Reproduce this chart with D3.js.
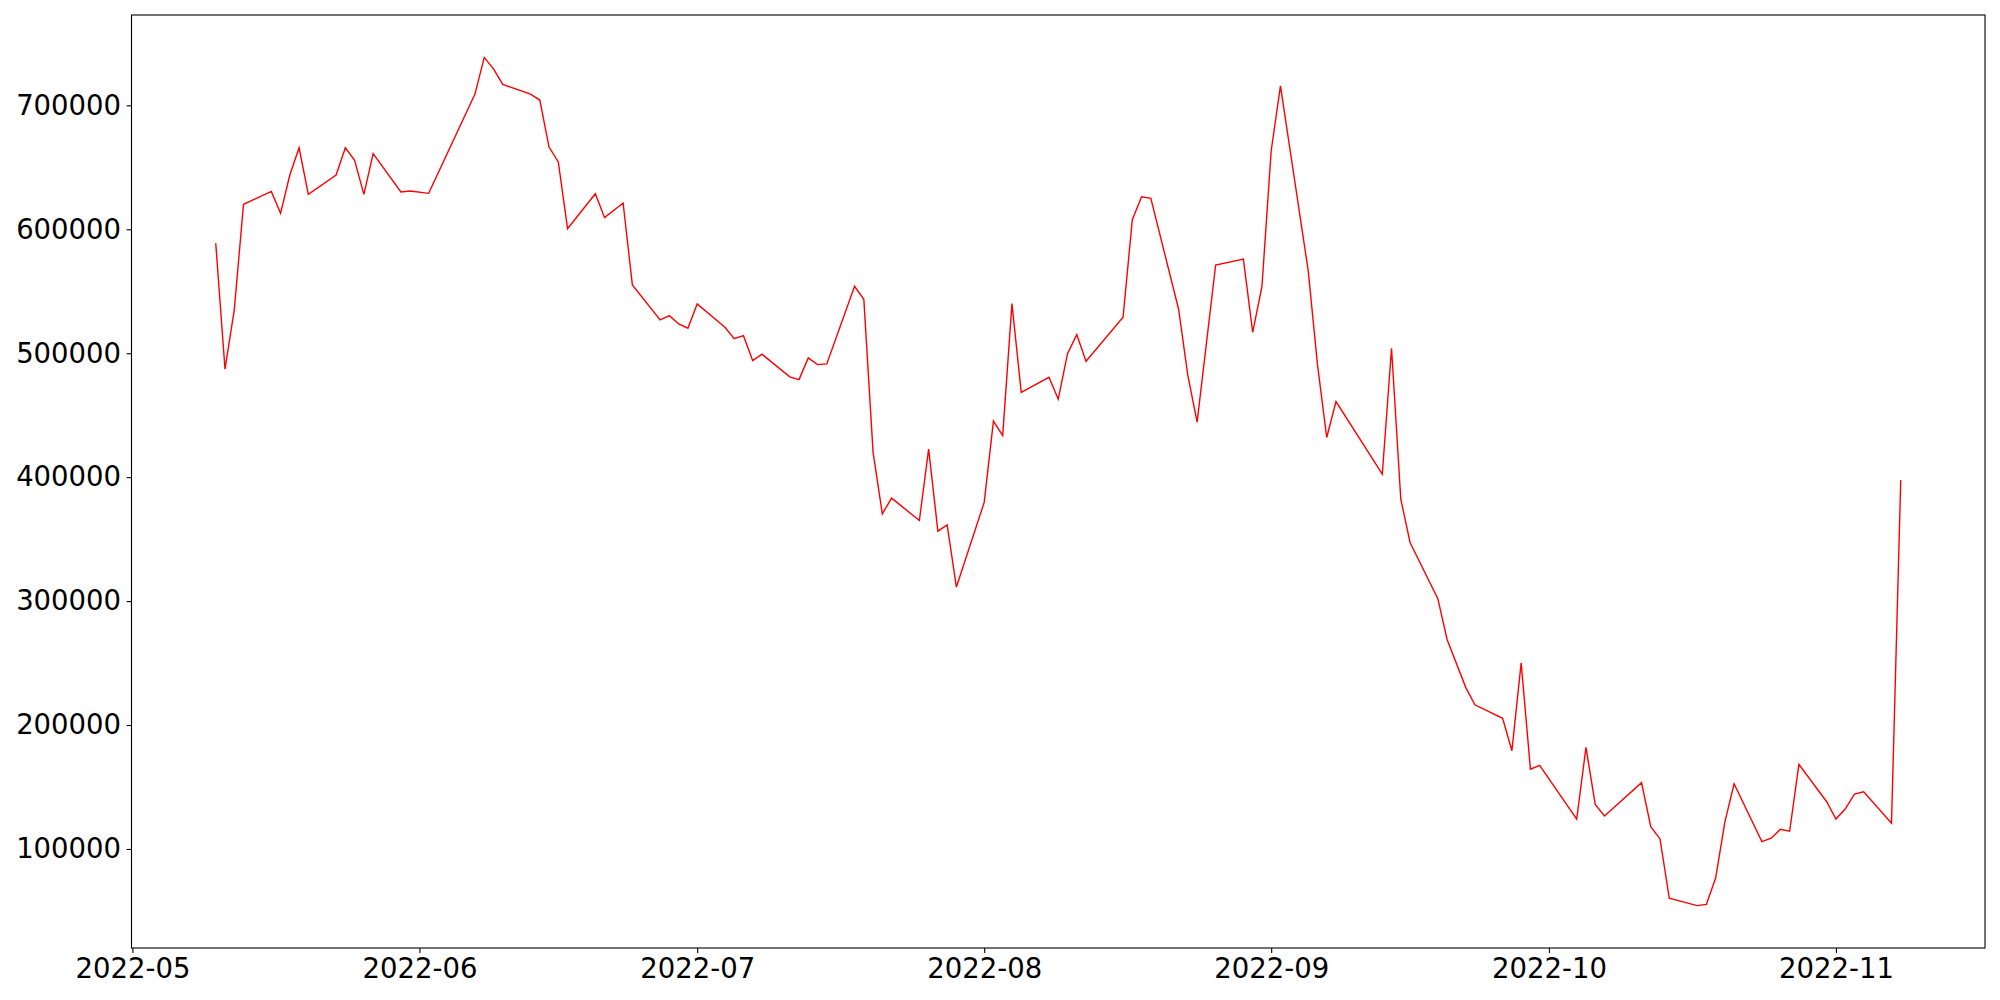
<!DOCTYPE html>
<html>
<head>
<meta charset="utf-8">
<script src="https://cdn.jsdelivr.net/npm/d3@7"></script>
<style>
  body { margin: 0; background: #fff; }
  svg text { font-family: "DejaVu Sans", sans-serif; }
</style>
</head>
<body>
<div id="chart"></div>
<script>
  // trading days and closing values
  var dates = ['2022-05-10','2022-05-11','2022-05-12','2022-05-13','2022-05-16','2022-05-17','2022-05-18','2022-05-19','2022-05-20',
    '2022-05-23','2022-05-24','2022-05-25','2022-05-26','2022-05-27','2022-05-30','2022-05-31','2022-06-02','2022-06-07',
    '2022-06-08','2022-06-09','2022-06-10','2022-06-13','2022-06-14','2022-06-15','2022-06-16','2022-06-17','2022-06-20',
    '2022-06-21','2022-06-23','2022-06-24','2022-06-27','2022-06-28','2022-06-29','2022-06-30','2022-07-01','2022-07-04',
    '2022-07-05','2022-07-06','2022-07-07','2022-07-08','2022-07-11','2022-07-12','2022-07-13','2022-07-14','2022-07-15',
    '2022-07-18','2022-07-19','2022-07-20','2022-07-21','2022-07-22','2022-07-25','2022-07-26','2022-07-27','2022-07-28',
    '2022-07-29','2022-08-01','2022-08-02','2022-08-03','2022-08-04','2022-08-05','2022-08-08','2022-08-09','2022-08-10',
    '2022-08-11','2022-08-12','2022-08-16','2022-08-17','2022-08-18','2022-08-19','2022-08-22','2022-08-23','2022-08-24',
    '2022-08-26','2022-08-29','2022-08-30','2022-08-31','2022-09-01','2022-09-02','2022-09-05','2022-09-06','2022-09-07',
    '2022-09-08','2022-09-13','2022-09-14','2022-09-15','2022-09-16','2022-09-19','2022-09-20','2022-09-22','2022-09-23',
    '2022-09-26','2022-09-27','2022-09-28','2022-09-29','2022-09-30','2022-10-04','2022-10-05','2022-10-06','2022-10-07',
    '2022-10-11','2022-10-12','2022-10-13','2022-10-14','2022-10-17','2022-10-18','2022-10-19','2022-10-20','2022-10-21',
    '2022-10-24','2022-10-25','2022-10-26','2022-10-27','2022-10-28','2022-10-31','2022-11-01','2022-11-02','2022-11-03',
    '2022-11-04','2022-11-07','2022-11-08'];

  var values = [588700,487100,534900,620200,630600,612900,643800,665800,628200,
    643800,665800,655600,628200,661000,630100,630900,629000,709100,
    738700,729500,716900,709100,704300,666400,654300,600500,628700,
    609400,621200,555100,526900,530300,523600,520200,539800,521000,
    511800,514200,494000,499200,480900,478700,496200,490800,491400,
    554000,543500,420000,370400,383100,365000,422600,356400,361500,
    311300,379600,445200,433500,540000,468500,480600,462900,499700,
    515000,493500,529000,607700,626300,625000,535500,481900,444400,
    571200,576000,516900,553700,663400,715800,566600,490800,432000,
    461000,402400,504000,382200,347300,302000,269000,230600,216300,
    205400,179200,250200,164400,167400,124100,181900,135900,126600,
    153500,118000,108100,60200,54300,55200,76300,121700,152600,
    105900,108700,115800,114300,168300,138100,124200,132200,144300,
    146100,120700,397600];

  var yTicks = [100000, 200000, 300000, 400000, 500000, 600000, 700000];
  var xTicks = ['2022-05-01','2022-06-01','2022-07-01','2022-08-01','2022-09-01','2022-10-01','2022-11-01'];

  var width = 2000, height = 1000;
  var margin = {top: 15, right: 15, bottom: 52, left: 131.5};

  var parse = d3.utcParse('%Y-%m-%d');
  var data = dates.map(function(d, i){ return {date: parse(d), value: values[i]}; });

  // matplotlib style 5% margins
  var xExt = d3.extent(data, function(d){ return d.date; });
  var xPad = (xExt[1] - xExt[0]) * 0.05;
  var yExt = d3.extent(values);
  var yPad = (yExt[1] - yExt[0]) * 0.05;

  var x = d3.scaleUtc()
      .domain([new Date(+xExt[0] - xPad), new Date(+xExt[1] + xPad)])
      .range([margin.left, width - margin.right]);

  var y = d3.scaleLinear()
      .domain([yExt[0] - yPad, yExt[1] + yPad])
      .range([height - margin.bottom, margin.top]);

  var svg = d3.select('#chart')
    .append('svg')
    .attr('width', width)
    .attr('height', height);

  var line = d3.line()
      .x(function(d){ return x(d.date); })
      .y(function(d){ return y(d.value); });

  svg.append('path')
    .datum(data)
    .attr('fill', 'none')
    .attr('stroke', '#ff0000')
    .attr('stroke-width', 1.4)
    .attr('stroke-linejoin', 'miter')
    .attr('d', line);

  var xAxis = svg.append('g')
    .attr('transform', 'translate(0,' + (height - margin.bottom) + ')')
    .call(d3.axisBottom(x)
      .tickValues(xTicks.map(parse))
      .tickFormat(d3.utcFormat('%Y-%m'))
      .tickSize(4.9)
      .tickPadding(5.5));

  var yAxis = svg.append('g')
    .attr('transform', 'translate(' + margin.left + ',0)')
    .call(d3.axisLeft(y)
      .tickValues(yTicks)
      .tickFormat(d3.format('d'))
      .tickSize(4.9)
      .tickPadding(5.5));

  [xAxis, yAxis].forEach(function(g){
    g.select('.domain').remove();
    g.selectAll('.tick line').attr('stroke', '#000').attr('stroke-width', 1.1);
    g.selectAll('.tick text').attr('fill', '#000').style('font-size', '27.5px');
  });

  // frame
  svg.append('rect')
    .attr('x', margin.left)
    .attr('y', margin.top)
    .attr('width', width - margin.right - margin.left)
    .attr('height', height - margin.bottom - margin.top)
    .attr('fill', 'none')
    .attr('stroke', '#000')
    .attr('stroke-width', 1.1);
</script>
</body>
</html>
